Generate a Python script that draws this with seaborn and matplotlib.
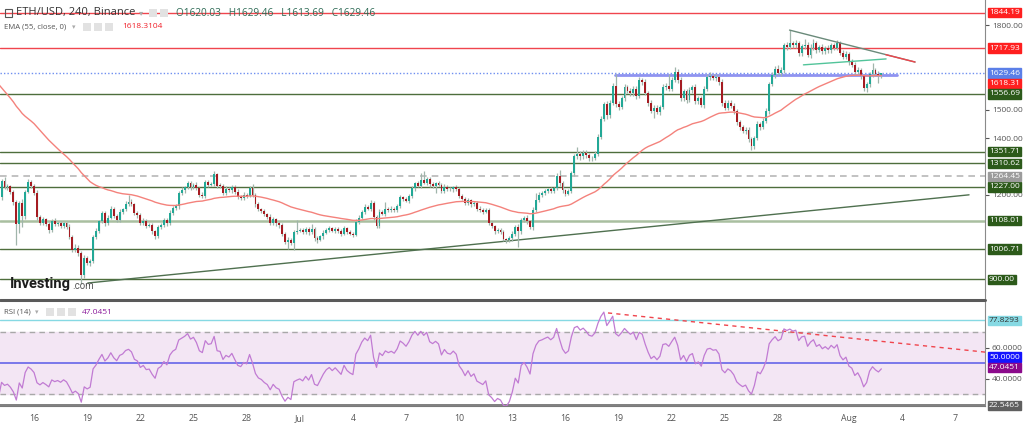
import numpy as np
import matplotlib
matplotlib.use("Agg")
import matplotlib.pyplot as plt
from matplotlib.patches import Rectangle
from matplotlib.lines import Line2D
from matplotlib.transforms import blended_transform_factory as blend
import seaborn as sns

sns.set_style("white")
plt.rcParams['font.family'] = ['Open Sans', 'DejaVu Sans']

# ---------------- data (ETH/USD, 4h candles, Binance) ----------------
first_open = 1235.0
closes = [
    1190, 1248, 1225, 1230, 1208, 1172, 1095, 1170, 1125, 1210, 1245, 1230, 1205, 1120, 1100, 1112, 1095, 1075, 1108, 1095,
    1100, 1088, 1098, 1085, 1050, 1005, 1012, 993, 915, 975, 958, 965, 1050, 1072, 1105, 1135, 1100, 1118, 1150, 1125,
    1110, 1140, 1148, 1168, 1175, 1165, 1135, 1128, 1100, 1108, 1090, 1092, 1070, 1052, 1085, 1092, 1110, 1098, 1135, 1152,
    1160, 1205, 1215, 1225, 1240, 1226, 1235, 1222, 1200, 1195, 1245, 1235, 1238, 1272, 1232, 1230, 1205, 1220, 1215, 1228,
    1210, 1192, 1188, 1200, 1196, 1224, 1200, 1165, 1148, 1142, 1130, 1122, 1100, 1112, 1098, 1092, 1060, 1032, 1040, 1028,
    1068, 1072, 1075, 1068, 1078, 1066, 1078, 1045, 1040, 1052, 1065, 1075, 1080, 1072, 1078, 1070, 1062, 1080, 1068, 1062,
    1058, 1103, 1118, 1140, 1155, 1150, 1170, 1120, 1090, 1140, 1132, 1150, 1145, 1150, 1145, 1160, 1190, 1185, 1178, 1195,
    1222, 1240, 1232, 1250, 1242, 1255, 1236, 1232, 1240, 1235, 1212, 1228, 1220, 1218, 1226, 1220, 1195, 1185, 1170, 1180,
    1165, 1170, 1150, 1145, 1140, 1146, 1100, 1088, 1070, 1075, 1068, 1042, 1038, 1045, 1060, 1085, 1070, 1110, 1118, 1105,
    1085, 1145, 1180, 1200, 1205, 1212, 1218, 1212, 1222, 1265, 1240, 1215, 1203, 1212, 1275, 1335, 1345, 1335, 1348, 1340,
    1330, 1328, 1345, 1405, 1468, 1520, 1480, 1525, 1585, 1520, 1510, 1540, 1580, 1568, 1558, 1575, 1548, 1605, 1598, 1560,
    1525, 1495, 1508, 1492, 1510, 1580, 1585, 1575, 1605, 1635, 1605, 1540, 1565, 1535, 1570, 1580, 1530, 1540, 1518, 1575,
    1615, 1620, 1612, 1615, 1598, 1525, 1508, 1525, 1515, 1495, 1455, 1438, 1425, 1430, 1395, 1372, 1400, 1450, 1440, 1462,
    1495, 1592, 1622, 1646, 1630, 1642, 1728, 1722, 1735, 1728, 1735, 1700, 1725, 1730, 1695, 1720, 1735, 1712, 1722, 1708,
    1718, 1710, 1728, 1720, 1735, 1702, 1688, 1698, 1668, 1660, 1632, 1640, 1618, 1578, 1590, 1625, 1640, 1628, 1620.03, 1629.46,
]
upper_wicks = [
    10, 6, 14, 8, 5, 8, 10, 8, 15, 6, 10, 6, 8, 10, 6, 8, 5, 8, 6, 8,
    6, 8, 6, 5, 10, 8, 12, 8, 6, 10, 8, 6, 8, 10, 6, 8, 8, 10, 8, 6,
    6, 8, 6, 8, 23, 8, 6, 8, 6, 8, 6, 8, 6, 5, 6, 8, 6, 8, 10, 6,
    6, 8, 10, 6, 8, 8, 6, 8, 6, 8, 8, 6, 8, 10, 6, 8, 6, 10, 8, 6,
    6, 8, 6, 8, 6, 8, 12, 6, 8, 6, 8, 6, 8, 10, 6, 8, 6, 8, 10, 8,
    8, 38, 8, 6, 8, 6, 17, 6, 8, 6, 8, 6, 8, 6, 8, 6, 8, 10, 6, 8,
    6, 10, 8, 6, 10, 8, 12, 6, 8, 8, 6, 25, 6, 8, 6, 8, 10, 6, 8, 6,
    8, 6, 8, 28, 32, 8, 6, 8, 6, 8, 6, 8, 6, 8, 6, 8, 6, 8, 6, 8,
    6, 8, 6, 8, 6, 8, 6, 8, 6, 8, 6, 8, 6, 8, 10, 8, 12, 8, 6, 8,
    6, 10, 25, 8, 6, 8, 6, 8, 6, 10, 22, 8, 6, 8, 10, 8, 25, 8, 10, 8,
    8, 6, 10, 8, 10, 8, 12, 10, 8, 40, 10, 8, 10, 8, 10, 8, 10, 10, 8, 10,
    8, 10, 8, 10, 8, 12, 10, 40, 10, 15, 10, 12, 10, 8, 10, 8, 10, 8, 10, 8,
    10, 12, 8, 10, 8, 10, 8, 10, 8, 10, 8, 10, 8, 10, 8, 10, 8, 12, 8, 10,
    10, 8, 10, 8, 12, 10, 10, 12, 47, 10, 12, 10, 8, 22, 10, 12, 17, 10, 8, 10,
    8, 10, 8, 10, 13, 10, 8, 10, 8, 10, 8, 10, 8, 10, 8, 10, 26, 8, 10, 0,
]
lower_wicks = [
    12, 10, 6, 8, 6, 8, 73, 30, 40, 10, 6, 8, 6, 10, 8, 6, 8, 10, 6, 8,
    8, 6, 8, 6, 8, 10, 8, 12, 32, 12, 8, 10, 8, 6, 8, 6, 10, 8, 6, 8,
    8, 6, 8, 6, 8, 6, 8, 10, 8, 6, 8, 6, 10, 8, 6, 8, 6, 8, 6, 8,
    8, 10, 6, 8, 6, 10, 8, 6, 10, 8, 6, 8, 6, 6, 10, 8, 6, 8, 6, 8,
    8, 6, 8, 6, 8, 6, 8, 10, 6, 8, 6, 8, 8, 6, 8, 10, 8, 6, 24, 8,
    23, 8, 6, 8, 6, 8, 6, 8, 10, 6, 8, 6, 8, 6, 8, 6, 8, 6, 8, 6,
    8, 6, 8, 6, 8, 6, 8, 10, 10, 8, 6, 8, 6, 8, 6, 8, 6, 8, 6, 8,
    6, 8, 6, 8, 6, 8, 10, 8, 27, 6, 8, 6, 8, 6, 8, 6, 8, 6, 8, 6,
    8, 6, 8, 6, 8, 6, 8, 6, 8, 6, 8, 6, 8, 6, 8, 6, 56, 8, 6, 8,
    8, 10, 8, 6, 8, 6, 8, 6, 8, 6, 8, 10, 8, 6, 8, 10, 8, 12, 8, 10,
    10, 8, 6, 8, 10, 8, 12, 10, 8, 10, 12, 8, 10, 8, 10, 8, 10, 8, 10, 8,
    10, 8, 25, 8, 10, 8, 10, 8, 10, 8, 12, 10, 8, 10, 8, 10, 8, 10, 8, 10,
    8, 10, 8, 10, 12, 10, 8, 10, 8, 10, 8, 10, 8, 10, 8, 16, 10, 8, 10, 8,
    8, 10, 8, 10, 8, 10, 12, 10, 8, 10, 8, 10, 8, 10, 8, 10, 8, 10, 8, 10,
    10, 8, 10, 8, 10, 8, 10, 8, 10, 8, 10, 8, 10, 13, 16, 8, 10, 8, 24, 6.34,
]

ema_period = 55
ema_seed = 1605.0
rsi_period = 14
rsi_seed_gain = 9.0
rsi_seed_loss = 19.5

# date ticks (candle index of 00:00 of each day)
date_pos = [12, 30, 48, 66, 84, 102, 120, 138, 156, 174, 192, 210, 228, 246, 264, 288, 306, 324]
date_labels = ['16', '19', '22', '25', '28', 'Jul', '4', '7', '10', '13', '16', '19', '22', '25', '28', 'Aug', '4', '7']

# horizontal levels
red_levels = [1844.19, 1717.93]
green_levels = [1556.69, 1351.71, 1310.62, 1227.00, 1006.71, 900.00]
pale_levels = [1108.01]
dashed_level = 1264.45
last_price = 1629.46
ema_last = 1618.31
price_ticks = [1200, 1400, 1500, 1800]

# drawn trend lines (candle index, price)
support_x, support_y = [30.2, 328.7], [887, 1199]
tri_up_x, tri_up_y = [267.9, 310.4], [1782, 1669]
tri_up_red_x, tri_up_red_y = [300.5, 310.4], [1695, 1669]
tri_lo_x, tri_lo_y = [272.6, 300.6], [1659, 1680]
resist_x, resist_y = [208.8, 304.3], [1622, 1622]
rsi_trend_x, rsi_trend_y = [206.4, 340.0], [82.6, 56.0]
rsi_max_line = 77.8293
rsi_min_line = 22.5465
rsi_last = 47.0451

# ---------------- computation ----------------
c = np.array(closes, float)
o = np.r_[first_open, c[:-1]]
idx = np.arange(len(c))
bhi = np.maximum(o, c)
blo = np.minimum(o, c)
hi = bhi + np.array(upper_wicks, float)
lo = blo - np.array(lower_wicks, float)

alpha = 2.0 / (ema_period + 1)
ema, prev = [], ema_seed
for v in c:
    prev = prev + alpha * (v - prev)
    ema.append(prev)

diff = c - o
ag, al = rsi_seed_gain, rsi_seed_loss
rsi = []
for d in diff:
    ag = (ag * (rsi_period - 1) + max(d, 0)) / rsi_period
    al = (al * (rsi_period - 1) + max(-d, 0)) / rsi_period
    rsi.append(100 - 100 / (1 + ag / al))

# ---------------- figure ----------------
W, H = 1024, 426
fig = plt.figure(figsize=(W / 100, H / 100), dpi=100)
fx = lambda px: px / W
fy = lambda py: 1 - py / H

ax = fig.add_axes([0, fy(298), fx(985), 298 / H])
rx = fig.add_axes([0, fy(406), fx(985), (406 - 302) / H])
XL = (0.47, 334.1)

TEAL, RED, WICK = '#22a896', '#a51c22', '#a0b5ab'
GREEN_LINE, GREEN_BOX = '#4e6e3c', '#2c5a1a'

# main pane
ax.set_xlim(*XL)
ax.set_ylim(833.9, 1888.5)
for v in red_levels:
    ax.axhline(v, color='#f0454d', lw=1, zorder=2)
for v in green_levels:
    ax.axhline(v, color=GREEN_LINE, lw=1, zorder=2)
for v in pale_levels:
    ax.axhline(v, color='#a9bfa0', lw=1.8, zorder=2)
ax.axhline(dashed_level, color='#b8b8b8', lw=1.2, ls=(0, (4, 3)), zorder=2)
ax.axhline(last_price, color='#6f8ff0', lw=1, ls=(0, (1, 1.5)), zorder=2)

ax.plot(support_x, support_y, color='#4f704f', lw=1, zorder=2)
ax.plot(resist_x, resist_y, color='#7c80ee', lw=2, alpha=0.85, zorder=3)

ax.vlines(idx, lo, hi, colors=WICK, lw=0.9, zorder=4)
ax.bar(idx, np.maximum(bhi - blo, 2.5), bottom=blo, width=0.64,
       color=np.where(c >= o, TEAL, RED), lw=0, zorder=5)
sns.lineplot(x=idx, y=ema, ax=ax, color='#f4827c', lw=1, zorder=6)

ax.plot(tri_up_x, tri_up_y, color='#6a8a7a', lw=1, zorder=7)
ax.plot(tri_up_red_x, tri_up_red_y, color='#f0454d', lw=1, zorder=7)
ax.plot(tri_lo_x, tri_lo_y, color='#52c49a', lw=1, zorder=7)

ax.yaxis.tick_right()
ax.set_yticks(price_ticks)
ax.set_yticklabels([f'{v:.2f}' for v in price_ticks])
ax.tick_params(axis='y', labelsize=6, colors='#555555', length=3, pad=2, width=0.8)
ax.set_xticks([])
ax.set_ylabel('')
for s in ['top', 'left', 'bottom']:
    ax.spines[s].set_visible(False)
ax.spines['right'].set_color('#8a8a8a')

def box(axis, val, text, fc, tc='white', shift=0):
    axis.annotate(text, xy=(1.0, val), xycoords=blend(axis.transAxes, axis.transData),
                  xytext=(4, -shift), textcoords='offset pixels', fontsize=6, color=tc,
                  va='center', ha='left', annotation_clip=False, zorder=20,
                  bbox=dict(boxstyle='square,pad=0.15', fc=fc, ec=fc))

for v in red_levels:
    box(ax, v, f'{v:.2f}', '#ff1f1f')
box(ax, last_price, f'{last_price:.2f}', '#5b7fe8')
box(ax, ema_last, f'{ema_last:.2f}', '#ff1f1f', shift=7)
for v in sorted(green_levels + pale_levels, reverse=True):
    box(ax, v, f'{v:.2f}', GREEN_BOX)
box(ax, dashed_level, f'{dashed_level:.2f}', '#9c9c9c')

# RSI pane
rx.set_xlim(*XL)
rx.set_ylim(22.2, 89.7)
rx.axhspan(30, 70, color='#f3e6f4', zorder=0)
rx.axhline(70, color='#a8a8a8', lw=1, ls=(0, (4, 3)), zorder=1)
rx.axhline(30, color='#a8a8a8', lw=1, ls=(0, (4, 3)), zorder=1)
rx.axhline(50, color='#6565e8', lw=1.2, zorder=2)
rx.axhline(rsi_max_line, color='#86d9e3', lw=1, zorder=2)
rx.axhline(rsi_min_line, color='#6a6a6a', lw=1.2, zorder=2)
rx.plot(rsi_trend_x, rsi_trend_y, color='#f0454d', lw=1, ls=(0, (3, 3)), zorder=3)
sns.lineplot(x=idx, y=rsi, ax=rx, color='#c17bd3', lw=0.9, zorder=4)
rx.set_ylabel('')

rx.yaxis.tick_right()
rx.set_yticks([40, 60])
rx.set_yticklabels(['40.0000', '60.0000'])
rx.tick_params(axis='y', labelsize=6, colors='#555555', length=3, pad=2, width=0.8)
rx.set_xticks(date_pos)
rx.set_xticklabels(date_labels)
rx.tick_params(axis='x', labelsize=6.3, colors='#555555', length=3, pad=3, width=0.8)
rx.spines['top'].set_visible(False)
rx.spines['left'].set_visible(False)
rx.spines['right'].set_color('#8a8a8a')
rx.spines['bottom'].set_color('#7a7a7a')

box(rx, rsi_max_line, f'{rsi_max_line:.4f}', '#86d9e3', tc='#333333')
box(rx, 50, '50.0000', '#1414ff', shift=-6)
box(rx, rsi_last, f'{rsi_last:.4f}', '#8b0a8b')
box(rx, rsi_min_line, f'{rsi_min_line:.4f}', '#5f5f5f')

# pane separator
fig.add_artist(Line2D([0, fx(985)], [fy(300), fy(300)], transform=fig.transFigure, color='#5a5a5a', lw=2.2))

# header texts
def icon(x, y, w=8, h=8, fc='#e2e2e2'):
    fig.add_artist(Rectangle((fx(x), fy(y + h)), w / W, h / H, transform=fig.transFigure, fc=fc, ec='none'))

fig.add_artist(Rectangle((fx(5), fy(17)), 7 / W, 8 / H, transform=fig.transFigure, fc='none', ec='#555555', lw=0.8))
fig.text(fx(16), fy(13), 'ETH/USD, 240, Binance', fontsize=8, color='#333333', va='center', ha='left')
fig.text(fx(139), fy(13), '▾', fontsize=6, color='#aaaaaa', va='center', ha='left', family=['DejaVu Sans'])
icon(149, 9); icon(160, 9)
fig.text(fx(176), fy(13), 'O1620.03   H1629.46   L1613.69   C1629.46', fontsize=7.2, color='#2f6b56', va='center', ha='left')

fig.text(fx(4), fy(27), 'EMA (55, close, 0)', fontsize=5.6, color='#555555', va='center', ha='left')
fig.text(fx(72), fy(27), '▾', fontsize=5, color='#aaaaaa', va='center', ha='left', family=['DejaVu Sans'])
icon(83, 23); icon(94, 23); icon(105, 23)
fig.text(fx(122), fy(27), '1618.3104', fontsize=6, color='#f0202a', va='center', ha='left')

fig.text(fx(4), fy(312), 'RSI (14)', fontsize=5.6, color='#555555', va='center', ha='left')
fig.text(fx(35), fy(312), '▾', fontsize=5, color='#aaaaaa', va='center', ha='left', family=['DejaVu Sans'])
icon(46, 308); icon(57, 308); icon(68, 308)
fig.text(fx(82), fy(312), f'{rsi_last:.4f}', fontsize=6, color='#8b1a9b', va='center', ha='left')

# watermark
fig.text(fx(10), fy(284), 'Investing', fontsize=10.5, fontweight='bold', color='#1c1c1c',
         va='center', ha='left', family=['Roboto', 'DejaVu Sans'])
fig.text(fx(72), fy(286), '.com', fontsize=7, color='#555555', va='center', ha='left',
         family=['Roboto', 'DejaVu Sans'])

fig.savefig('out.png', dpi=100)
